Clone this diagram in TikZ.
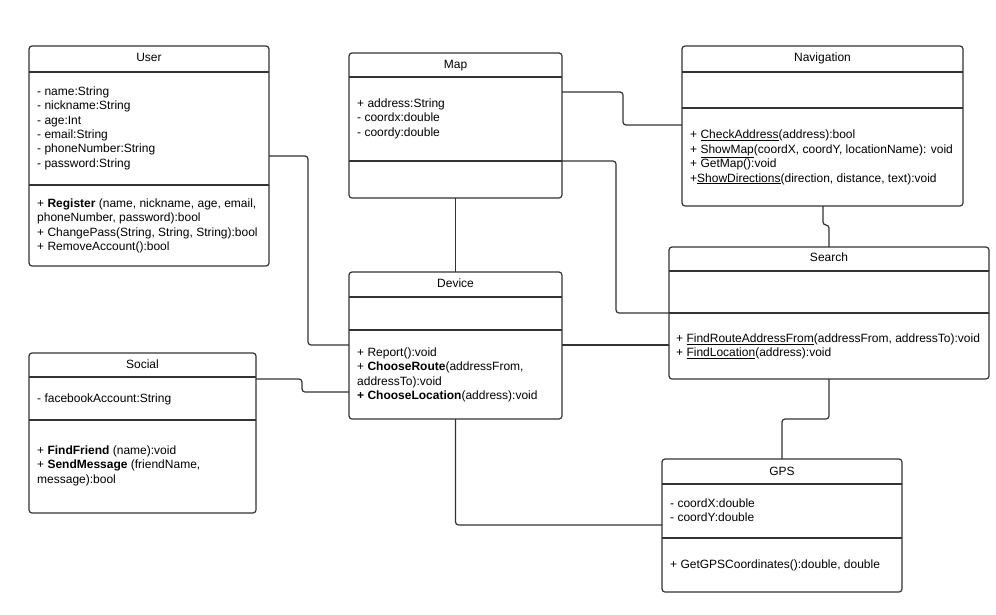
\documentclass[tikz,border=0pt]{standalone}
\usepackage{fontspec}
\setmainfont{Liberation Sans}
\definecolor{ln}{HTML}{333333}
\begin{document}
\begin{tikzpicture}[x=1pt,y=-1pt,
  cls/.style={draw=ln, line width=1.2pt, rounded corners=3pt, anchor=north west, inner sep=0pt, outer sep=0pt},
  dv/.style={draw=ln, line width=1.1pt},
  conn/.style={draw=ln, line width=1.2pt, rounded corners=3pt},
  ttl/.style={font=\fontsize{12}{14.4}\selectfont, anchor=base, inner sep=0pt},
  txt/.style={font=\fontsize{12}{14.4}\selectfont, anchor=base west, inner sep=0pt, align=left, xshift=8pt}]
\useasboundingbox (0,0) rectangle (996,614);

% class boxes
\node[cls, minimum width=240pt, minimum height=220pt] (user) at (29,46) {};
\node[cls, minimum width=213pt, minimum height=145pt] (map) at (349,53) {};
\node[cls, minimum width=281pt, minimum height=160pt] (nav) at (682,46) {};
\node[cls, minimum width=320pt, minimum height=132pt] (search) at (669,247) {};
\node[cls, minimum width=213pt, minimum height=147pt] (device) at (349,272) {};
\node[cls, minimum width=227pt, minimum height=160pt] (social) at (29,353) {};
\node[cls, minimum width=240pt, minimum height=133pt] (gps) at (662,459) {};

% dividers
\draw[dv] (user.west |- 0,72) -- (user.east |- 0,72);
\draw[dv] (user.west |- 0,185) -- (user.east |- 0,185);
\draw[dv] (map.west |- 0,77) -- (map.east |- 0,77);
\draw[dv] (map.west |- 0,161) -- (map.east |- 0,161);
\draw[dv] (nav.west |- 0,72) -- (nav.east |- 0,72);
\draw[dv] (nav.west |- 0,108) -- (nav.east |- 0,108);
\draw[dv] (search.west |- 0,271) -- (search.east |- 0,271);
\draw[dv] (search.west |- 0,313) -- (search.east |- 0,313);
\draw[dv] (device.west |- 0,297) -- (device.east |- 0,297);
\draw[dv] (device.west |- 0,330) -- (device.east |- 0,330);
\draw[dv] (social.west |- 0,377) -- (social.east |- 0,377);
\draw[dv] (social.west |- 0,420) -- (social.east |- 0,420);
\draw[dv] (gps.west |- 0,484) -- (gps.east |- 0,484);
\draw[dv] (gps.west |- 0,538) -- (gps.east |- 0,538);

% titles
\node[ttl] (userT) at (user.north |- 0,61.3) {User};
\node[ttl] (mapT) at (map.north |- 0,68.3) {Map};
\node[ttl] (navT) at (nav.north |- 0,61.3) {Navigation};
\node[ttl] (searchT) at (search.north |- 0,261.3) {Search};
\node[ttl] (deviceT) at (device.north |- 0,287.3) {Device};
\node[ttl] (socialT) at (social.north |- 0,368.3) {Social};
\node[ttl] (gpsT) at (gps.north |- 0,475.3) {GPS};

% members (base anchor = baseline of last line)
\node[txt] (userA) at (user.west |- 0,167.3) {- name:String\\- nickname:String\\- age:Int\\- email:String\\- phoneNumber:String\\- password:String};
\node[txt] (userM) at (user.west |- 0,250.5) {+ \textbf{Register} (name, nickname, age, email,\\phoneNumber, password):bool\\+ ChangePass(String, String, String):bool\\+ RemoveAccount():bool};
\node[txt] (mapA) at (map.west |- 0,136.1) {+ address:String\\- coordx:double\\- coordy:double};
\node[txt] (navM) at (nav.west |- 0,182.0) {+ \underline{CheckAddress}(address):bool\\+ \underline{ShowMap}(coordX, coordY, locationName): void\\+ GetMap():void\\+\underline{ShowDirections}(direction, distance, text):void};
\node[txt, xshift=-1pt] (searchM) at (search.west |- 0,356.7) {+ \underline{FindRouteAddressFrom}(addressFrom, addressTo):void\\+ \underline{FindLocation}(address):void};
\node[txt] (deviceM) at (device.west |- 0,399.5) {+ Report():void\\+ \textbf{ChooseRoute}(addressFrom,\\addressTo):void\\\textbf{+ ChooseLocation}(address):void};
\node[txt] (socialA) at (social.west |- 0,402.3) {- facebookAccount:String};
\node[txt] (socialM) at (social.west |- 0,483.1) {+ \textbf{FindFriend} (name):void\\+ \textbf{SendMessage} (friendName,\\message):bool};
\node[txt] (gpsA) at (gps.west |- 0,521.7) {- coordX:double\\- coordY:double};
\node[txt] (gpsM) at (gps.west |- 0,568.3) {+ GetGPSCoordinates():double, double};

% connectors
\draw[conn] ([yshift=-110pt]user.north east) -- ++(39,0) |- ([yshift=-73pt]device.north west);
\draw[conn] ([yshift=-26pt]social.north east) -- ++(46,0) |- ([yshift=-120pt]device.north west);
\draw[conn] (map.south) -- (device.north);
\draw[conn] ([yshift=-39pt]map.north east) -- ++(61,0) |- ([yshift=-79pt]nav.north west);
\draw[conn] ([yshift=-108pt]map.north east) -- ++(54,0) |- ([yshift=-66pt]search.north west);
\draw[conn] ([yshift=-73pt]device.north east) -- ([yshift=-98pt]search.north west);
\draw[conn] ([xshift=141pt]nav.south west) -- ++(0,19) -| ([xshift=160pt]search.north west);
\draw[conn] ([xshift=160pt]search.south west) -- ++(0,40) -| ([xshift=120pt]gps.north west);
\draw[conn] (device.south) |- ([yshift=-66pt]gps.north west);
\end{tikzpicture}
\end{document}
